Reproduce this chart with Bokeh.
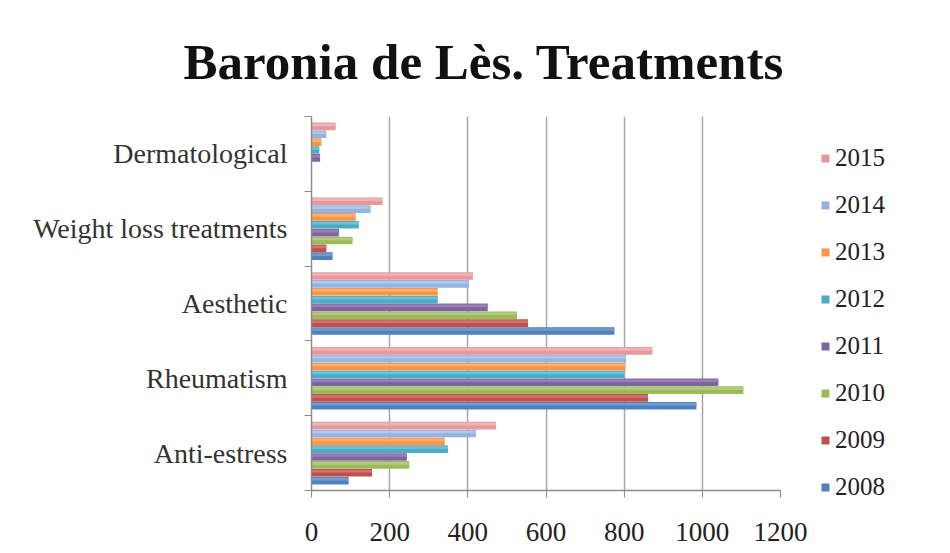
from bokeh.plotting import figure
from bokeh.models import ColumnDataSource, Range1d, FixedTicker, Legend, LegendItem
from bokeh.embed import file_html
from bokeh.resources import INLINE

categories = ["Anti-estress", "Rheumatism", "Aesthetic", "Weight loss treatments", "Dermatological"]
years = ["2008", "2009", "2010", "2011", "2012", "2013", "2014", "2015"]

v2008 = [95, 985, 775, 54, 0]
v2009 = [155, 861, 554, 38, 0]
v2010 = [250, 1105, 526, 105, 0]
v2011 = [244, 1041, 451, 70, 22]
v2012 = [349, 800, 323, 121, 20]
v2013 = [341, 803, 323, 113, 25]
v2014 = [421, 805, 403, 151, 38]
v2015 = [472, 872, 413, 182, 62]

x_ticks = [0, 200, 400, 600, 800, 1000, 1200]

series = [v2008, v2009, v2010, v2011, v2012, v2013, v2014, v2015]
colors = ["#4F81BD", "#C0504D", "#9BBB59", "#8064A2", "#4BACC6", "#F79646", "#95B3E2", "#E6999B"]
highlights = ["#7FA3D3", "#D47A78", "#B7D086", "#9D86BA", "#7CC4D8", "#FAB47E", "#B7CBEE", "#F0BBBC"]

FONT = "Liberation Serif"

p = figure(frame_width=469, frame_height=374, output_backend="svg", toolbar_location=None,
           x_range=Range1d(0, 1200), y_range=Range1d(0, len(categories)),
           min_border_left=311, min_border_right=162, min_border_top=116, min_border_bottom=63,
           background_fill_color="white", border_fill_color="white")
p.outline_line_color = None

p.title.text = "Baronia de Lès. Treatments"
p.title.text_font = FONT
p.title.text_font_size = "51px"
p.title.text_font_style = "bold"
p.title.text_color = "#111111"
p.title.align = "left"
p.title.offset = -128
p.title.standoff = 54

step = 0.105
bar_h = 0.102
items = []
for i, (yr, vals) in enumerate(zip(years, series)):
    ys = [ci + 0.5 + (i - 3.5) * step for ci in range(len(categories))]
    src = ColumnDataSource(dict(y=ys, right=vals, y2=[y + 0.02 for y in ys]))
    r = p.hbar(y="y", right="right", left=0, height=bar_h, source=src,
               fill_color=colors[i], line_color=None)
    p.hbar(y="y2", right="right", left=0, height=0.035, source=src,
           fill_color=highlights[i], line_color=None, fill_alpha=0.8)
    items.append(LegendItem(label=yr, renderers=[r]))

legend = Legend(items=list(reversed(items)), location=(40, -20),
                label_text_font=FONT, label_text_font_size="25px", label_text_color="#222222",
                glyph_width=10, glyph_height=10, label_height=47, spacing=0, padding=0, margin=0,
                label_standoff=5, border_line_color=None, background_fill_alpha=0)
p.add_layout(legend, "right")

# x axis
p.xaxis.ticker = FixedTicker(ticks=x_ticks)
p.xaxis.axis_line_color = "#8C8C8C"
p.xaxis.axis_line_width = 1.5
p.xaxis.major_tick_line_color = "#8C8C8C"
p.xaxis.major_tick_out = 7
p.xaxis.major_tick_in = 0
p.xaxis.minor_tick_line_color = None
p.xaxis.major_label_text_font = FONT
p.xaxis.major_label_text_font_size = "27px"
p.xaxis.major_label_text_color = "#222222"
p.xaxis.major_label_standoff = 25

# y axis: labels at category centres, ticks at boundaries
p.yaxis.ticker = FixedTicker(ticks=[ci + 0.5 for ci in range(len(categories))],
                             minor_ticks=list(range(len(categories) + 1)))
p.yaxis.major_label_overrides = {ci + 0.5: c for ci, c in enumerate(categories)}
p.yaxis.axis_line_color = "#8C8C8C"
p.yaxis.axis_line_width = 1.5
p.yaxis.major_tick_line_color = None
p.yaxis.minor_tick_line_color = "#8C8C8C"
p.yaxis.minor_tick_out = 7
p.yaxis.minor_tick_in = 0
p.yaxis.major_label_text_font = FONT
p.yaxis.major_label_text_font_size = "28px"
p.yaxis.major_label_text_color = "#333333"
p.yaxis.major_label_standoff = 17

p.xgrid.grid_line_color = "#A6A6A6"
p.xgrid.grid_line_width = 1.5
p.ygrid.grid_line_color = None

open("out.html", "w").write(file_html(p, INLINE))
